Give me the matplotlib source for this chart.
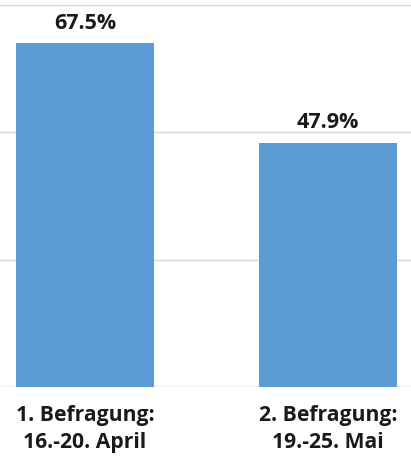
import matplotlib.pyplot as plt

kategorien = ['1. Befragung:\n16.-20. April', '2. Befragung:\n19.-25. Mai']
werte = [67.5, 47.9]
y_ticks = [0, 25, 50, 75]

plt.rcParams['font.family'] = ['Open Sans', 'DejaVu Sans']

fig = plt.figure(figsize=(4.11, 4.61), dpi=100)
ax = fig.add_axes([0, 0.1605, 1, 0.8395])

x = range(len(werte))
balken = ax.bar(x, werte, width=0.568, color='#5b9bd5', zorder=2)
for b, w in zip(balken, werte):
    ax.annotate(f'{w:.1f}%', (b.get_x() + b.get_width() / 2, w),
                xytext=(0, 7), textcoords='offset points',
                ha='center', va='bottom', fontsize=15.5, fontweight='bold',
                color='#1a1a1a')

ax.set_xlim(-0.35, 1.342)
ax.set_ylim(0, 76)
ax.set_yticks(y_ticks)
ax.yaxis.grid(True, color='#d9d9d9', linewidth=1, zorder=0)
ax.tick_params(left=False, labelleft=False, bottom=False, labelbottom=False)
for s in ax.spines.values():
    s.set_visible(False)
ax.axhline(0, color='#d9d9d9', linewidth=1, zorder=1)

for xi, k in zip(x, kategorien):
    ax.text(xi, -3.5, k, ha='center', va='top', fontsize=15.2, fontweight='bold',
            color='#1a1a1a', linespacing=1.38, transform=ax.transData)

fig.savefig('out.png', dpi=100)
